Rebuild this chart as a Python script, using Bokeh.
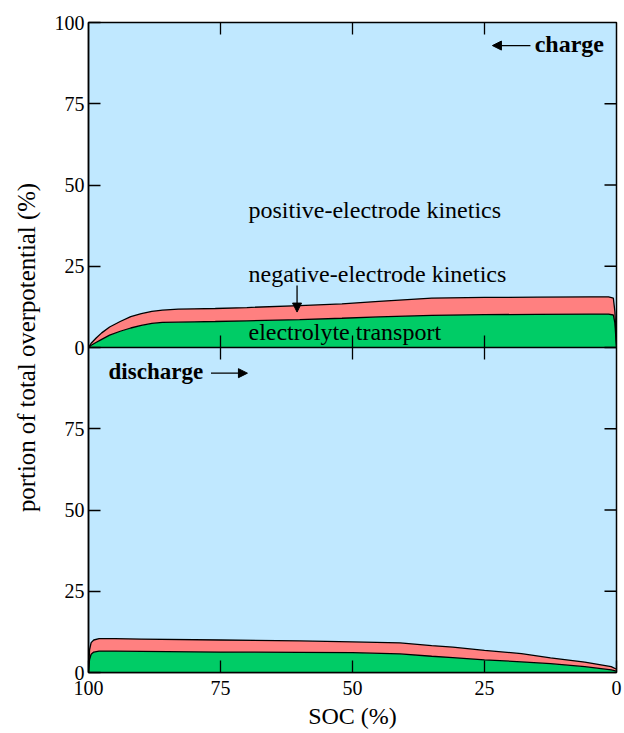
import numpy as np
from bokeh.plotting import figure
from bokeh.models import (Range1d, FixedTicker, Span, Label, Arrow, NormalHead)
from bokeh.embed import file_html
from bokeh.resources import INLINE

# SOC (%) sample points and cumulative shares of overpotential (%)
# Charge (upper panel)
soc_charge = [100, 99.5, 98.5, 97.5, 96, 94, 92, 90, 88, 86, 83, 80, 76, 70,
              60, 52, 45, 35, 25, 15, 5, 1.5, 0.6, 0.3, 0]
electrolyte_charge = [0, 0.7, 1.6, 2.5, 3.8, 5.0, 6.0, 6.8, 7.4, 7.7, 7.8, 7.9,
                      8.0, 8.2, 8.6, 9.0, 9.4, 9.9, 10.1, 10.2, 10.3, 10.3,
                      10.0, 7.5, 0]
negative_top_charge = [0, 1.3, 3.0, 4.5, 6.3, 8.0, 9.5, 10.4, 11.1, 11.5, 11.8,
                       11.9, 12.0, 12.3, 12.9, 13.4, 14.2, 15.2, 15.4, 15.5,
                       15.6, 15.6, 15.2, 11.0, 0]

# Discharge (lower panel)
soc_discharge = [100, 99.8, 99.5, 99, 98, 95, 90, 75, 60, 50, 41, 35, 31, 25,
                 18, 12.5, 6, 1, 0]
electrolyte_discharge = [0, 4.0, 5.6, 6.3, 6.6, 6.6, 6.5, 6.3, 6.2, 6.1, 5.7,
                         5.0, 4.6, 3.9, 3.3, 2.7, 1.8, 0.8, 0.4]
negative_top_discharge = [0, 7.0, 9.2, 10.0, 10.4, 10.4, 10.3, 10.0, 9.7, 9.4,
                          9.1, 8.3, 7.8, 6.8, 5.8, 4.5, 3.2, 1.8, 1.0]

x_ticks = [100, 75, 50, 25, 0]
panel_ticks = [0, 25, 50, 75, 100]

BLUE = "#c0e8ff"
RED = "#ff8080"
GREEN = "#00cc66"
SERIF = "Liberation Serif"

# the charge panel sits on top of the discharge panel: offset by 100
OFFSET = 100
y_ticks = panel_ticks + [t + OFFSET for t in panel_ticks[1:]]
y_labels = {t: str(t) for t in panel_ticks}
y_labels[OFFSET] = "0"
for t in panel_ticks[1:]:
    y_labels[t + OFFSET] = str(t)

p = figure(width=624, height=733, output_backend="svg", toolbar_location=None,
           x_range=Range1d(100, 0), y_range=Range1d(0, 2 * OFFSET),
           min_border_left=88, min_border_right=8, min_border_top=22,
           min_border_bottom=61)
p.background_fill_color = BLUE
p.border_fill_color = "white"
p.outline_line_color = "black"
p.outline_line_width = 1.5
p.grid.visible = False

# upper panel (charge)
sc = np.array(soc_charge)
gc = np.array(electrolyte_charge) + OFFSET
rc = np.array(negative_top_charge) + OFFSET
p.varea(x=sc, y1=OFFSET, y2=gc, fill_color=GREEN)
p.varea(x=sc, y1=gc, y2=rc, fill_color=RED)
p.line(sc, gc, line_color="black", line_width=1.3)
p.line(sc, rc, line_color="black", line_width=1.3)

# lower panel (discharge)
sd = np.array(soc_discharge)
gd = np.array(electrolyte_discharge)
rd = np.array(negative_top_discharge)
p.varea(x=sd, y1=0, y2=gd, fill_color=GREEN)
p.varea(x=sd, y1=gd, y2=rd, fill_color=RED)
p.line(sd, gd, line_color="black", line_width=1.3)
p.line(sd, rd, line_color="black", line_width=1.3)

# panel divider
p.add_layout(Span(location=OFFSET, dimension="width", line_color="black",
                  line_width=1.5))

# inner ticks on the divider, the top edge and the right edge
inner_x = x_ticks[1:-1]
p.scatter(x=inner_x, y=[OFFSET] * len(inner_x), marker="dash", size=24,
          angle=np.pi / 2, line_color="black", line_width=1.3)
p.scatter(x=inner_x, y=[2 * OFFSET] * len(inner_x), marker="dash", size=24,
          angle=np.pi / 2, line_color="black", line_width=1.3)
p.scatter(x=[0] * (len(y_ticks) - 2), y=y_ticks[1:-1], marker="dash", size=24,
          line_color="black", line_width=1.3)

# axes
p.xaxis.ticker = FixedTicker(ticks=x_ticks)
p.yaxis.ticker = FixedTicker(ticks=y_ticks)
p.yaxis.major_label_overrides = y_labels
for ax in (p.xaxis[0], p.yaxis[0]):
    ax.major_tick_in = 12
    ax.major_tick_out = 0
    ax.minor_tick_line_color = None
    ax.major_tick_line_width = 1.3
    ax.axis_line_width = 1.5
    ax.major_label_text_font = SERIF
    ax.major_label_text_font_size = "20px"
    ax.major_label_text_color = "black"
    ax.axis_label_text_font = SERIF
    ax.axis_label_text_font_style = "normal"
    ax.axis_label_text_color = "black"
p.xaxis.axis_label = "SOC (%)"
p.yaxis.axis_label = "portion of total overpotential (%)"
p.xaxis.axis_label_text_font_size = "24px"
p.yaxis.axis_label_text_font_size = "24.8px"
p.xaxis.major_label_standoff = 8
p.xaxis.axis_label_standoff = 5
p.yaxis.major_label_standoff = 4
p.yaxis.axis_label_standoff = 12

# annotations
def label(x, y, text, bold=False, size="24px"):
    p.add_layout(Label(x=x, y=y, text=text, text_font=SERIF,
                       text_font_size=size, text_baseline="alphabetic",
                       text_font_style="bold" if bold else "normal",
                       text_color="black"))

label(69.7, 142.3, "positive-electrode kinetics")
label(69.7, 122.6, "negative-electrode kinetics")
label(69.7, 104.9, "electrolyte transport")
label(15.5, 193.4, "charge", bold=True)
label(96.2, 92.7, "discharge", bold=True, size="23px")

head = dict(size=9, fill_color="black", line_color="black")
p.add_layout(Arrow(end=NormalHead(**head), x_start=60.5, y_start=119.1,
                   x_end=60.5, y_end=110.9, line_width=1.3))
p.add_layout(Arrow(end=NormalHead(**head), x_start=16.3, y_start=192.9,
                   x_end=23.5, y_end=192.9, line_width=1.3))
p.add_layout(Arrow(end=NormalHead(**head), x_start=76.8, y_start=92.1,
                   x_end=69.9, y_end=92.1, line_width=1.3))

open("out.html", "w").write(file_html(p, INLINE))
